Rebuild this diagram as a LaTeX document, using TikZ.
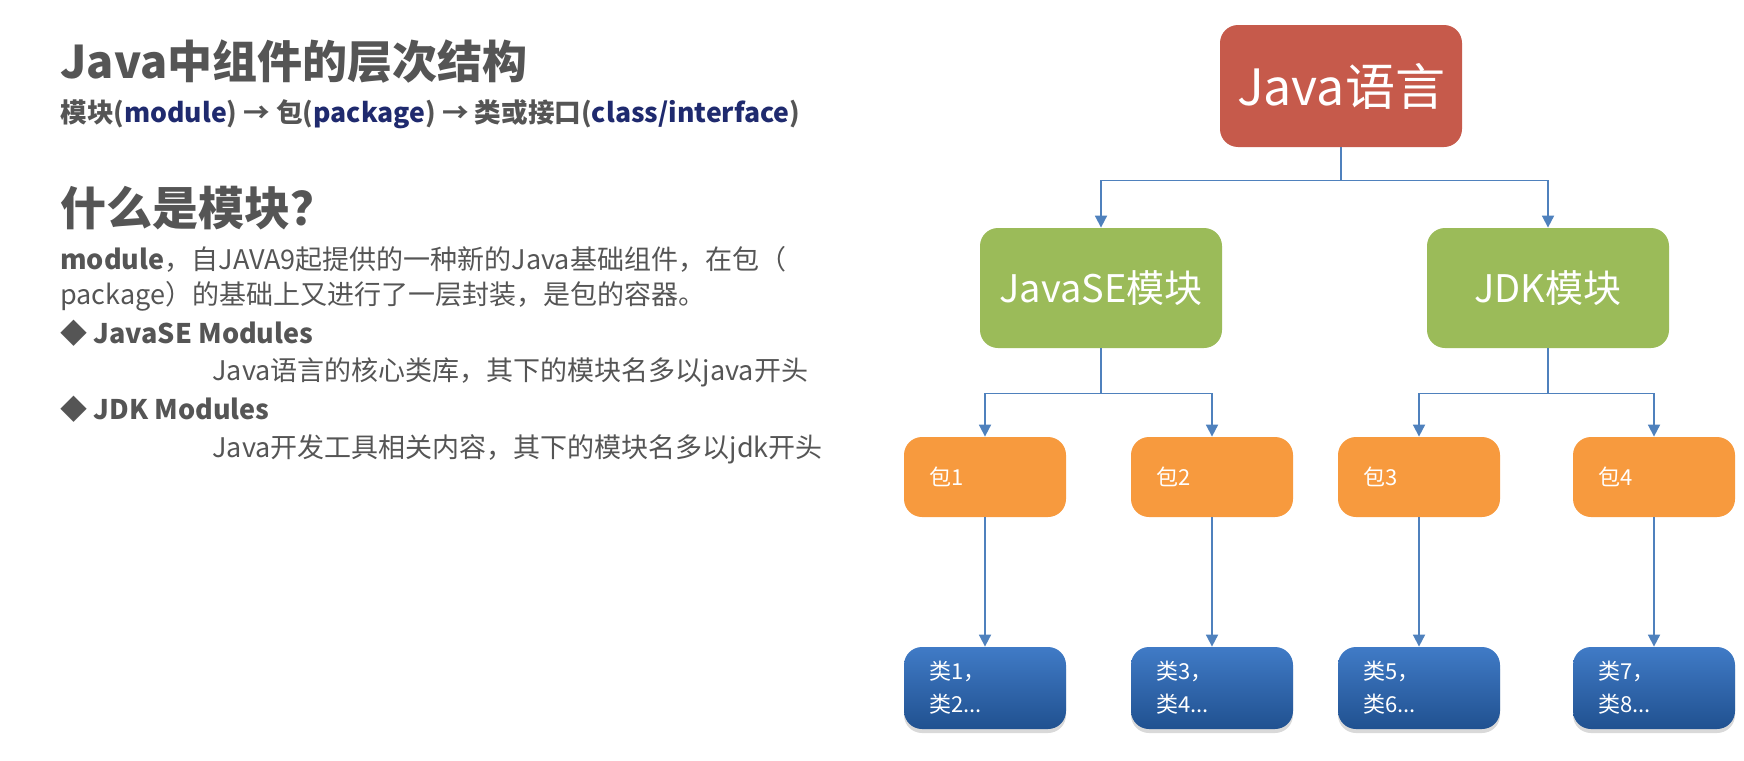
\documentclass[tikz,border=0pt]{standalone}
\usepackage{fontspec}
\setmainfont{Noto Sans CJK SC}
\usetikzlibrary{arrows.meta,shadows}

\definecolor{txtgray}{HTML}{555555}
\definecolor{navy}{HTML}{1F2A6E}
\definecolor{langred}{HTML}{C65A4B}
\definecolor{modgreen}{HTML}{9BBB59}
\definecolor{pkgorange}{HTML}{F79A3E}
\definecolor{clsblue}{HTML}{2B6CC0}
\definecolor{linkblue}{HTML}{4F81BD}

\tikzset{
  box/.style={rounded corners=9pt, text=white, inner sep=0pt},
  lang/.style={box, fill=langred, minimum width=121pt, minimum height=61pt, font=\fontsize{25}{30}\selectfont},
  mod/.style={box, fill=modgreen, minimum width=121pt, minimum height=60pt, font=\fontsize{19}{23}\selectfont},
  pkg/.style={box, fill=pkgorange, minimum width=81pt, minimum height=40pt, text width=56pt, align=left, font=\fontsize{11}{14}\selectfont},
  cls/.style={box, top color=clsblue!90!white, bottom color=clsblue!75!black, drop shadow={opacity=0.3, shadow xshift=0pt, shadow yshift=-2pt},
    minimum width=81pt, minimum height=41pt, text width=56pt, align=left, font=\fontsize{11}{16.5}\selectfont},
  link/.style={draw=linkblue, line width=0.9pt, -{Triangle[length=6pt,width=6pt]}},
  txt/.style={anchor=west, inner sep=0pt, text=txtgray}
}

\begin{document}
\begin{tikzpicture}[x=0.5pt,y=-0.5pt]
  \useasboundingbox (0,0) rectangle (1744,760);

  % left column
  \node[txt, font=\bfseries\fontsize{22.5}{27}\selectfont] (title) at (60,62) {Java中组件的层次结构};
  \node[txt, font=\bfseries\fontsize{13.3}{16}\selectfont] (chain) at (60,114)
    {模块(\textcolor{navy}{module}) → 包(\textcolor{navy}{package}) → 类或接口(\textcolor{navy}{class/interface})};
  \node[txt, font=\bfseries\fontsize{23}{28}\selectfont] (what) at (60,208) {什么是模块？};
  \node[txt, font=\fontsize{13.5}{16}\selectfont] (def1) at (60,259) {\textbf{module}，自JAVA9起提供的一种新的Java基础组件，在包（};
  \node[txt, font=\fontsize{13.5}{16}\selectfont] (def2) at (60,296) {package）的基础上又进行了一层封装，是包的容器。};
  \node[txt, font=\bfseries\fontsize{13.5}{16}\selectfont] (se) at (60,333) {◆ JavaSE Modules};
  \node[txt, font=\fontsize{13.5}{16}\selectfont] (sedesc) at (212,372) {Java语言的核心类库，其下的模块名多以java开头};
  \node[txt, font=\bfseries\fontsize{13.5}{16}\selectfont] (jdk) at (60,409) {◆ JDK Modules};
  \node[txt, font=\fontsize{13.5}{16}\selectfont] (jdkdesc) at (212,449) {Java开发工具相关内容，其下的模块名多以jdk开头};

  % tree
  \node[lang] (java) at (1341,86) {Java语言};
  \node[mod] (javase) at (1101,288) {JavaSE模块};
  \node[mod] (jdkmod) at (1548,288) {JDK模块};

  \node[pkg] (p1) at (985,477) {包1};
  \node[pkg] (p2) at (1212,477) {包2};
  \node[pkg] (p3) at (1419,477) {包3};
  \node[pkg] (p4) at (1654,477) {包4};

  \node[cls] (c1) at (985,688) {类1，\\类2...};
  \node[cls] (c2) at (1212,688) {类3，\\类4...};
  \node[cls] (c3) at (1419,688) {类5，\\类6...};
  \node[cls] (c4) at (1654,688) {类7，\\类8...};

  \draw[link] (java.south) -- ++(0,33) -| (javase.north);
  \draw[link] (java.south) -- ++(0,33) -| (jdkmod.north);
  \draw[link] (javase.south) -- ++(0,45) -| (p1.north);
  \draw[link] (javase.south) -- ++(0,45) -| (p2.north);
  \draw[link] (jdkmod.south) -- ++(0,45) -| (p3.north);
  \draw[link] (jdkmod.south) -- ++(0,45) -| (p4.north);
  \foreach \i in {1,...,4}
    \draw[link] (p\i) -- (c\i);
\end{tikzpicture}
\end{document}
